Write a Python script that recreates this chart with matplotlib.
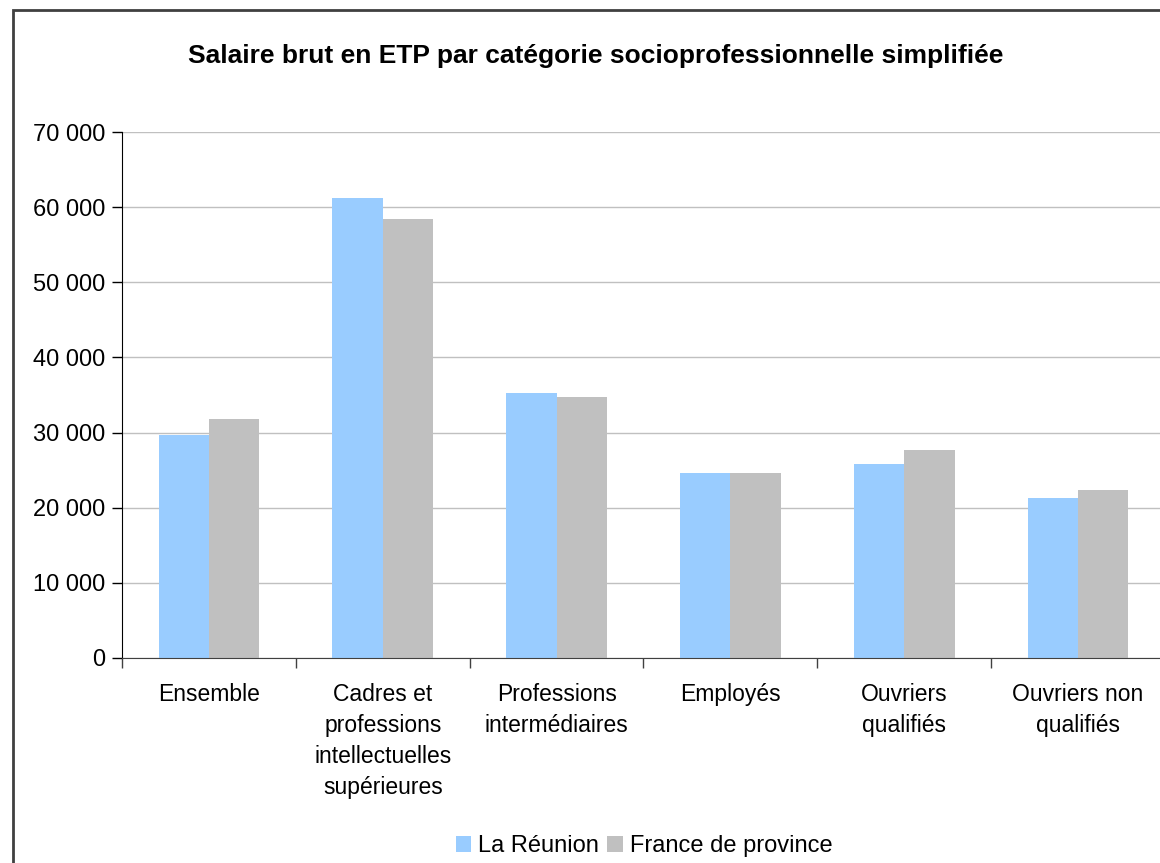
import numpy as np
import matplotlib
matplotlib.use("Agg")
import matplotlib.pyplot as plt
from matplotlib.patches import Rectangle
from matplotlib.ticker import FuncFormatter

plt.rcParams['font.family'] = ['Liberation Sans', 'DejaVu Sans']

# Données
categories = ["Ensemble",
              "Cadres et\nprofessions\nintellectuelles\nsupérieures",
              "Professions\nintermédiaires",
              "Employés",
              "Ouvriers\nqualifiés",
              "Ouvriers non\nqualifiés"]
reunion = [29700, 61200, 35300, 24600, 25800, 21300]
province = [31800, 58400, 34700, 24600, 27700, 22300]
series_names = ["La Réunion", "France de province"]
yticks = [0, 10000, 20000, 30000, 40000, 50000, 60000, 70000]

fig = plt.figure(figsize=(11.6, 8.63), dpi=100)
# cadre extérieur du graphique (coupé à droite et en bas)
fig.patches.append(Rectangle((13 / 1160, -0.05), 1.2, 1 - 10 / 863 + 0.05,
                             transform=fig.transFigure, fill=False,
                             edgecolor='#404040', linewidth=2))

ax = fig.add_axes([122 / 1160, 1 - 658 / 863, 1043 / 1160, 526 / 863])
x = np.arange(len(categories))
w = 0.29
ax.bar(x - w / 2, reunion, w, color='#99ccff', label=series_names[0], zorder=2)
ax.bar(x + w / 2, province, w, color='#c0c0c0', label=series_names[1], zorder=2)

ax.set_xlim(-0.5, len(categories) - 0.5)
ax.set_ylim(0, 70000)
ax.set_yticks(yticks)
ax.yaxis.set_major_formatter(FuncFormatter(lambda v, p: f"{int(v):,}".replace(",", " ")))
ax.grid(axis='y', color='#c0c0c0', linewidth=1, zorder=0)

ax.set_xticks(np.arange(len(categories) + 1) - 0.5)
ax.set_xticklabels([])
ax.set_xticks(x, minor=True)
ax.set_xticklabels(categories, minor=True, fontsize=16.5, linespacing=1.45, va='top')
ax.tick_params(axis='x', which='minor', length=0, pad=18)
ax.tick_params(axis='x', which='major', length=7, width=1, color='#404040')
ax.tick_params(axis='y', length=7, width=1, labelsize=17, pad=5)

for s in ['top', 'right']:
    ax.spines[s].set_visible(False)
ax.spines['left'].set_color('black')
ax.spines['bottom'].set_color('#404040')

fig.text(596 / 1160, 1 - 56 / 863, "Salaire brut en ETP par catégorie socioprofessionnelle simplifiée",
         ha='center', va='center', fontsize=19, fontweight='bold')

fig.legend(loc='center', bbox_to_anchor=(644 / 1160, 1 - 846 / 863), ncol=2, frameon=False,
           fontsize=17, handlelength=0.65, handleheight=0.65, handletextpad=0.3,
           columnspacing=0.35)

fig.savefig("out.png", dpi=100)
